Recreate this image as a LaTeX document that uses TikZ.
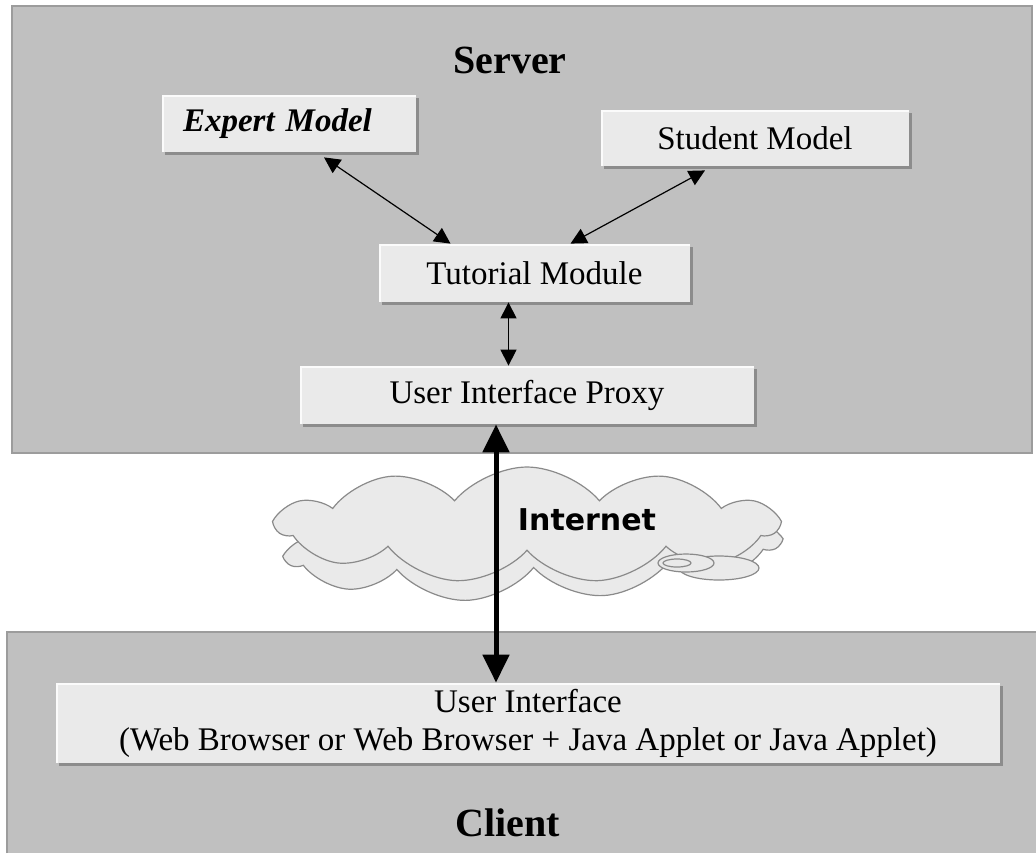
\documentclass[tikz,border=0pt]{standalone}
\usepackage{fontspec}
\setmainfont{Liberation Serif}
\newfontfamily\netfont{DejaVu Sans}
\usetikzlibrary{arrows.meta,shadows,shapes.symbols}

\definecolor{regiongray}{HTML}{C0C0C0}
\definecolor{regionedge}{HTML}{9C9C9C}
\definecolor{boxgray}{HTML}{EAEAEA}
\definecolor{shadowgray}{HTML}{8C8C8C}
\definecolor{cloudedge}{HTML}{8A8A8A}

\tikzset{
	region/.style={fill=regiongray, draw=regionedge, line width=1pt},
	box/.style={fill=boxgray, inner sep=0pt, font=\fontsize{16.5}{19}\selectfont,
		drop shadow={shadow xshift=1.5pt, shadow yshift=-1.5pt, fill=shadowgray, opacity=1},
		path picture={\draw[white!80!boxgray, line width=1.5pt]
			(path picture bounding box.south west) -- (path picture bounding box.north west)
			-- (path picture bounding box.north east);}},
	title/.style={font=\fontsize{20}{24}\selectfont\bfseries},
	link/.style={{Triangle[length=8pt,width=8pt]}-{Triangle[length=8pt,width=8pt]}, line width=0.6pt},
	netlink/.style={{Triangle[length=14pt,width=13pt]}-{Triangle[length=14pt,width=13pt]}, line width=2.5pt},
	puff/.style={cloud, cloud puffs=11, cloud puff arc=100, cloud ignores aspect, fill=boxgray, draw=cloudedge, line width=0.6pt, inner sep=0pt},
	ring/.style={fill=boxgray, draw=cloudedge, line width=0.6pt},
}

\begin{document}
\begin{tikzpicture}[x=0.5pt, y=-0.5pt]
	\useasboundingbox (0,0) rectangle (1036,853);

	% server and client areas
	\draw[region] (12,6) rectangle (1032,453);
	\fill[regiongray] (7,632) rectangle (1036,853);
	\draw[regionedge, line width=1pt] (7,853) -- (7,632) -- (1036,632);

	\node[title] (server) at (510,60) {Server};
	\node[title] (client) at (508,823) {Client};

	% modules on the server
	\node[box, minimum width=127pt, minimum height=28.5pt, text width=106pt, align=left] (expert) at (289,123.5) {\textbf{\textit{Expert Model}}};
	\node[box, minimum width=154pt, minimum height=28pt] (student) at (755,138) {Student Model};
	\node[box, minimum width=155.5pt, minimum height=29pt] (tutorial) at (534.5,273) {Tutorial Module};
	\node[box, minimum width=227pt, minimum height=29pt] (proxy) at (527,395) {User Interface Proxy};

	% client side
	\node[box, minimum width=472pt, minimum height=40pt, align=center] (ui) at (528,723) {User Interface\\(Web Browser or Web Browser + Java Applet or Java Applet)};

	% the internet cloud
	\node[puff, minimum width=245pt, minimum height=50pt, rotate=2] (haze) at (533,550) {};
	\node[puff, minimum width=250pt, minimum height=58pt] (cloud) at (527,525) {};
	\draw[ring] (719,568) ellipse [x radius=20pt, y radius=6pt];
	\draw[ring] (686,563) ellipse [x radius=14pt, y radius=4.5pt];
	\draw[ring] (677,563) ellipse [x radius=7pt, y radius=2pt];
	\node[font=\netfont\bfseries\fontsize{15}{18}\selectfont] (net) at (587,520) {Internet};

	% connections
	\draw[link] ([xshift=17.5pt,yshift=-2.5pt]expert.south) -- ([xshift=-42pt]tutorial.north);
	\draw[link] ([xshift=-25pt,yshift=-2pt]student.south) -- ([xshift=18pt]tutorial.north);
	\coordinate (tm) at ([xshift=-13pt]tutorial.south);
	\draw[link] (tm) -- (tm |- proxy.north);
	\coordinate (up) at ([xshift=-15.5pt]proxy.south);
	\draw[netlink] (up) -- (up |- ui.north);
\end{tikzpicture}
\end{document}
